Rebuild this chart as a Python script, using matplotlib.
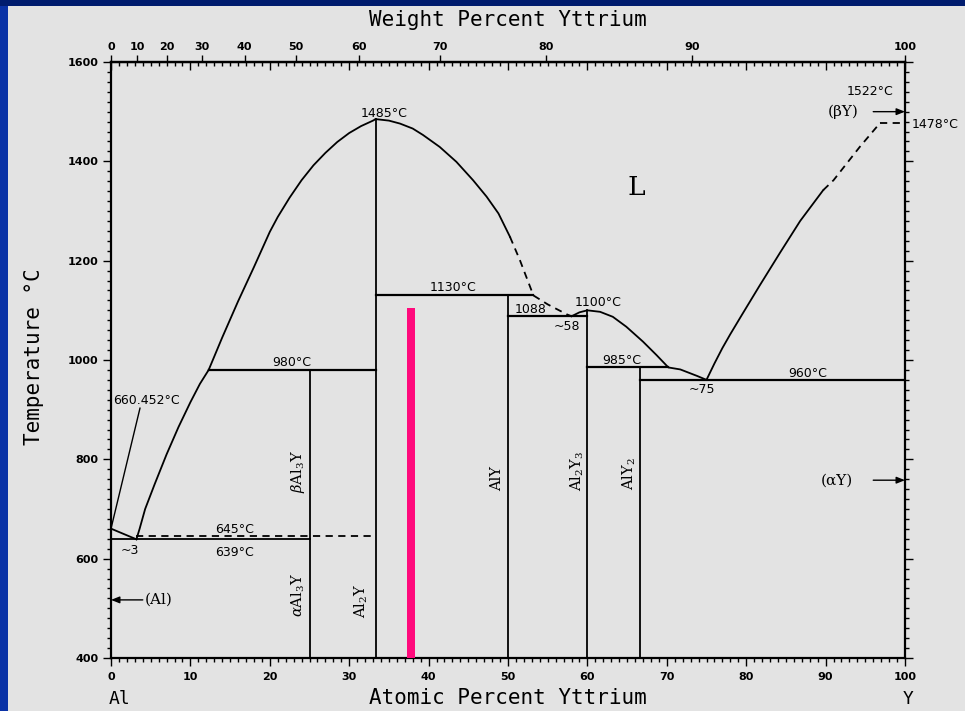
import numpy as np
import matplotlib
matplotlib.use("Agg")
import matplotlib.pyplot as plt
from matplotlib.patches import Rectangle
from matplotlib.ticker import MultipleLocator, NullLocator

plt.rcParams["mathtext.fontset"] = "dejavuserif"

# ---- Al-Y phase diagram data (x: at.% Y, T: deg C) ----
M_AL, M_Y = 26.98, 88.906

# liquidus, Al side
liq_al_x = [0.0, 3.2]
liq_al_t = [660.452, 639]
# liquidus from the ~3 eutectic up to the 980 peritectic
liq_a_x = [3.2, 3.6, 4.3, 5.5, 7.0, 8.5, 10.0, 11.2, 12.3]
liq_a_t = [639, 660, 700, 750, 810, 865, 915, 952, 980]
# liquidus up to the Al2Y congruent maximum
liq_b_x = [12.3, 14, 16, 18, 20, 21, 22.5, 24, 25.5, 27, 28.5, 30, 31.5, 33.0, 33.33]
liq_b_t = [980, 1045, 1118, 1187, 1258, 1288, 1327, 1362, 1392, 1417, 1439, 1457, 1471, 1482, 1485]
# liquidus falling from the Al2Y maximum (solid part)
liq_c_x = [33.33, 35.0, 36.4, 38.0, 39.3, 41.4, 43.5, 45.6, 47.3, 48.8, 50.25]
liq_c_t = [1485, 1482, 1476, 1466, 1453, 1429, 1399, 1362, 1329, 1295, 1248]
# uncertain (dashed) part down to the ~58 eutectic
liq_c_dash_x = [50.25, 51.5, 53.2, 55.0, 57.4, 58.0]
liq_c_dash_t = [1248, 1201, 1130, 1112, 1092, 1088]
# liquidus over Al2Y3 down to the ~75 eutectic
liq_d_x = [58.0, 59.0, 60.0, 61.6, 63.2, 64.9, 67.0, 68.7, 70.2, 71.7, 73.8, 75.0]
liq_d_t = [1088, 1096, 1100, 1097, 1087, 1067, 1037, 1010, 985, 981, 968, 960]
# liquidus on the Y side
liq_e_x = [75.0, 76.0, 77.0, 78.0, 79.5, 81.7, 84.3, 86.8, 89.7]
liq_e_t = [960, 993, 1024, 1052, 1092, 1150, 1217, 1280, 1342]
liq_e_dash_x = [89.7, 91.0, 94.3, 96.9]
liq_e_dash_t = [1342, 1362, 1429, 1478]

# invariant (horizontal) lines: T, x_start, x_end, style
inv_t = [639, 645, 980, 1130, 1088, 985, 960, 1478]
inv_x0 = [0.0, 3.2, 12.3, 33.33, 50.0, 60.0, 66.67, 96.9]
inv_x1 = [25.0, 33.33, 33.33, 53.2, 60.0, 70.2, 100.0, 100.0]
inv_dashed = [False, True, False, False, False, False, False, True]
inv_lw = [1.3, 1.3, 1.6, 1.6, 1.6, 1.6, 1.6, 1.3]

# intermetallic compounds: composition and upper temperature of the line
comp_x = [25.0, 33.33, 50.0, 60.0, 66.67]
comp_top = [980, 1485, 1130, 1100, 985]

# highlighted composition bar
bar_x = 37.8
bar_top = 1105

# axis ticks
at_ticks = list(range(0, 101, 10))
wt_ticks = list(range(0, 101, 10))
t_ticks = list(range(400, 1601, 200))


def at2wt(a):
    a = np.clip(np.asarray(a, dtype=float), 0, 100)
    m = a * M_Y
    return 100.0 * m / (m + (100.0 - a) * M_AL)


def wt2at(w):
    w = np.clip(np.asarray(w, dtype=float), 0, 100)
    n = w / M_Y
    return 100.0 * n / (n + (100.0 - w) / M_AL)


W, H = 965, 711
fig = plt.figure(figsize=(W / 100, H / 100), dpi=100)
fig.patch.set_facecolor("#0a32a6")
fig.add_artist(Rectangle((0, 1 - 6 / H), 1, 6 / H, transform=fig.transFigure,
                         facecolor="#001c6e", edgecolor="none", zorder=-20))
fig.add_artist(Rectangle((8 / W, 0), 1 - 8 / W, 1 - 6 / H, transform=fig.transFigure,
                         facecolor="#e3e3e3", edgecolor="none", zorder=-10))

x0, x1 = 111 / W, 905 / W
y0, y1 = 1 - 658 / H, 1 - 62 / H
ax = fig.add_axes([x0, y0, x1 - x0, y1 - y0])
ax.set_facecolor("none")
ax.set_xlim(0, 100)
ax.set_ylim(400, 1600)
for s in ax.spines.values():
    s.set_linewidth(1.6)

tick_font = dict(family="DejaVu Sans", weight="bold", size=8)

ax.set_xticks(at_ticks)
ax.xaxis.set_minor_locator(MultipleLocator(1))
ax.set_yticks(t_ticks)
ax.yaxis.set_minor_locator(MultipleLocator(20))
ax.tick_params(axis="x", which="both", top=False, bottom=True, direction="out", width=1.0)
ax.tick_params(axis="x", which="major", length=6, pad=4)
ax.tick_params(axis="x", which="minor", length=3)
ax.tick_params(axis="y", which="both", left=True, right=True, labelright=False,
               direction="out", width=1.0)
ax.tick_params(axis="y", which="major", length=6, pad=3)
ax.tick_params(axis="y", which="minor", length=3)
for lab in ax.get_xticklabels() + ax.get_yticklabels():
    lab.set_fontproperties(tick_font)

# atomic-percent ticks on the top edge, pointing inward
sec_at = ax.secondary_xaxis("top", functions=(lambda v: v, lambda v: v))
sec_at.set_xticks(at_ticks)
sec_at.xaxis.set_minor_locator(MultipleLocator(1))
sec_at.tick_params(which="both", direction="in", labeltop=False, width=1.0)
sec_at.tick_params(which="major", length=6)
sec_at.tick_params(which="minor", length=3)

# weight-percent scale on top
sec_wt = ax.secondary_xaxis("top", functions=(at2wt, wt2at))
sec_wt.set_xticks(wt_ticks)
sec_wt.xaxis.set_minor_locator(NullLocator())
sec_wt.tick_params(which="major", direction="out", length=5, width=1.0, pad=2)
for lab in sec_wt.get_xticklabels():
    lab.set_fontproperties(tick_font)
sec_wt.spines["top"].set_linewidth(1.6)

lc = "black"
lw = 1.3
dash = (0, (4, 3))

# liquidus curves
ax.plot(liq_al_x, liq_al_t, color=lc, lw=lw)
ax.plot(liq_a_x, liq_a_t, color=lc, lw=lw)
ax.plot(liq_b_x, liq_b_t, color=lc, lw=lw)
ax.plot(liq_c_x, liq_c_t, color=lc, lw=lw)
ax.plot(liq_c_dash_x, liq_c_dash_t, color=lc, lw=lw, linestyle=dash)
ax.plot(liq_d_x, liq_d_t, color=lc, lw=lw)
ax.plot(liq_e_x, liq_e_t, color=lc, lw=lw)
ax.plot(liq_e_dash_x, liq_e_dash_t, color=lc, lw=lw, linestyle=dash)

# invariant reactions
for t, a, b, d, w in zip(inv_t, inv_x0, inv_x1, inv_dashed, inv_lw):
    ax.plot([a, b], [t, t], color=lc, lw=w, linestyle=dash if d else "-")

# compound lines
for cx, ct in zip(comp_x, comp_top):
    ax.plot([cx, cx], [400, ct], color=lc, lw=lw)

# highlighted composition
ax.bar([bar_x], [bar_top - 400], bottom=400, width=1.0, color="#ff0a7c", zorder=3)

# temperature annotations
ann = dict(family="DejaVu Sans", size=9, color="black", ha="center", va="center")
ax.text(34.4, 1497, "1485°C", **ann)
ax.text(43.1, 1145, "1130°C", **ann)
ax.text(52.8, 1101, "1088", **ann)
ax.text(57.4, 1067, "~58", **ann)
ax.text(61.4, 1116, "1100°C", **ann)
ax.text(64.3, 1000, "985°C", **ann)
ax.text(74.4, 940, "~75", **ann)
ax.text(87.8, 973, "960°C", **ann)
ax.text(22.8, 994, "980°C", **ann)
ax.text(15.6, 659, "645°C", **ann)
ax.text(15.6, 613, "639°C", **ann)
ax.text(2.4, 617, "~3", **ann)
ax.text(0.3, 919, "660.452°C", family="DejaVu Sans", size=9, ha="left", va="center")
ax.text(95.6, 1541, "1522°C", **ann)
ax.text(103.8, 1475, "1478°C", clip_on=False, **ann)
ax.plot([0.0, 3.65], [660.452, 903], color=lc, lw=1.0)

# phase regions
serif = dict(family="DejaVu Serif", color="black", va="center")
ax.text(66.2, 1348, "L", size=19, ha="center", **serif)
ax.text(94.2, 1500, "(βY)", size=11, ha="right", **serif)
ax.text(93.5, 758, "(αY)", size=11, ha="right", **serif)
ax.text(4.2, 517, "(Al)", size=11, ha="left", **serif)
arrow = dict(arrowstyle="-|>,head_length=0.5,head_width=0.2", color="black", lw=1.0,
             shrinkA=0, shrinkB=0)
ax.annotate("", xy=(100, 1500), xytext=(96.0, 1500), arrowprops=arrow)
ax.annotate("", xy=(100, 758), xytext=(96.0, 758), arrowprops=arrow)
ax.annotate("", xy=(0, 517), xytext=(4.0, 517), arrowprops=arrow)

rot = dict(family="DejaVu Serif", size=10.5, rotation=90, ha="center", va="center")
ax.text(23.5, 775, r"$\beta$Al$_3$Y", **rot)
ax.text(23.6, 527, r"$\alpha$Al$_3$Y", **rot)
ax.text(31.5, 515, r"Al$_2$Y", **rot)
ax.text(48.6, 762, r"AlY", **rot)
ax.text(58.7, 776, r"Al$_2$Y$_3$", **rot)
ax.text(65.3, 772, r"AlY$_2$", **rot)

# axis titles
title_font = dict(family="DejaVu Sans Mono", size=15, color="black", ha="center", va="center")
fig.text(508 / W, 1 - 20 / H, "Weight Percent Yttrium", **title_font)
fig.text(508 / W, 1 - 698 / H, "Atomic Percent Yttrium", **title_font)
fig.text(120 / W, 1 - 699 / H, "Al", family="DejaVu Sans Mono", size=13, ha="center", va="center")
fig.text(908 / W, 1 - 699 / H, "Y", family="DejaVu Sans Mono", size=13, ha="center", va="center")
fig.text(34 / W, 1 - 357 / H, "Temperature °C", rotation=90, **title_font)

fig.savefig("out.png", dpi=100, facecolor=fig.get_facecolor())
